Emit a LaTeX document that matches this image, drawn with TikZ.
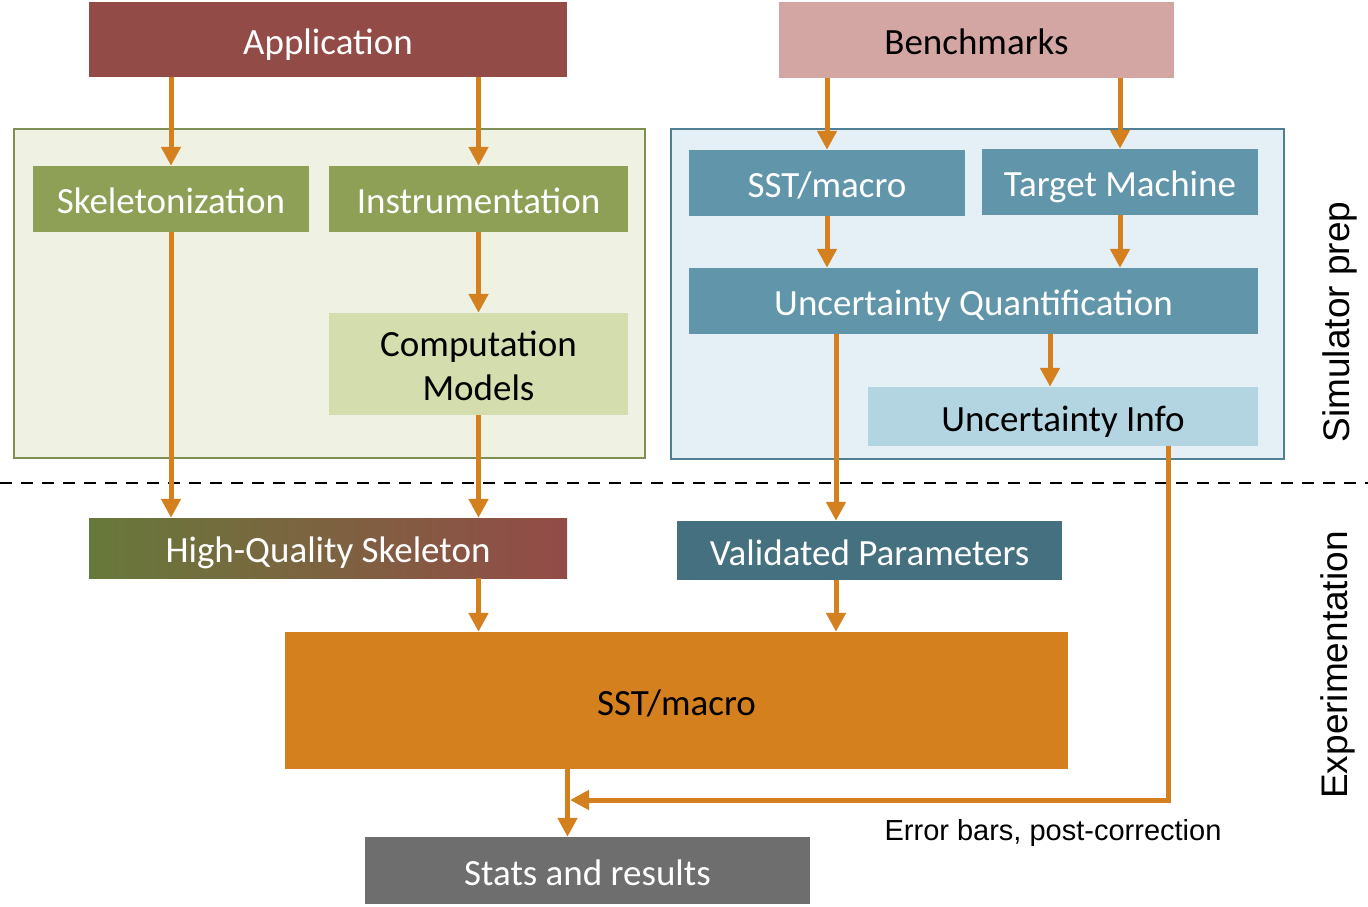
\documentclass[tikz,border=0pt]{standalone}
\usepackage{fontspec}
\usetikzlibrary{arrows.meta}
\newfontfamily\boxfont{Carlito}
\newfontfamily\notefont{Liberation Sans}

\definecolor{appred}{HTML}{934B47}
\definecolor{benchpink}{HTML}{D4A6A3}
\definecolor{olive}{HTML}{8DA055}
\definecolor{lightolive}{HTML}{D3DDAD}
\definecolor{panelgreen}{HTML}{EFF2E3}
\definecolor{panelgreenline}{HTML}{7F8F53}
\definecolor{teal}{HTML}{6095AA}
\definecolor{lightteal}{HTML}{B2D5E1}
\definecolor{panelblue}{HTML}{E5F0F6}
\definecolor{panelblueline}{HTML}{4E7F94}
\definecolor{darkteal}{HTML}{44707F}
\definecolor{hqgreen}{HTML}{67793A}
\definecolor{flowcol}{HTML}{D4801F}
\definecolor{statgray}{HTML}{6E6E6E}

\tikzset{
  box/.style={rectangle, inner sep=0pt, align=center, text height=35pt, text depth=6pt,
    font=\boxfont\fontsize{37}{44}\selectfont},
  panel/.style={rectangle, inner sep=0pt, line width=2pt},
  flow/.style={draw=flowcol, line width=5pt, -{Triangle[width=19pt,length=19pt]}},
  side/.style={font=\notefont\fontsize{37}{44}\selectfont, rotate=90},
}

\begin{document}
\begin{tikzpicture}[x=1pt, y=-1pt]
\useasboundingbox (0,0) rectangle (1368,906);

% Hai khung nen
\node[panel, draw=panelgreenline, fill=panelgreen, minimum width=631, minimum height=329] (apppanel) at (329.5,293.5) {};
\node[panel, draw=panelblueline, fill=panelblue, minimum width=613, minimum height=330] (simpanel) at (977.5,294) {};

% Hang tren cung
\node[box, fill=appred, text=white, minimum width=478, minimum height=75] (app) at (328,39.5) {Application};
\node[box, fill=benchpink, minimum width=395, minimum height=76] (bench) at (976.5,40) {Benchmarks};

% Khung ben trai
\node[box, fill=olive, text=white, minimum width=276, minimum height=66] (skel) at (171,199) {Skeletonization};
\node[box, fill=olive, text=white, minimum width=299, minimum height=66] (instr) at (478.5,199) {Instrumentation};
\node[box, fill=lightolive, text height=79pt, minimum width=299, minimum height=102] (comp) at (478.5,364) {Computation\\Models};

% Khung ben phai
\node[box, fill=teal, text=white, minimum width=276, minimum height=66] (sstA) at (827,183) {SST/macro};
\node[box, fill=teal, text=white, minimum width=276, minimum height=66] (target) at (1120,182) {Target Machine};
\node[box, fill=teal, text=white, minimum width=569, minimum height=66] (uq) at (973.5,301) {Uncertainty Quantification};
\node[box, fill=lightteal, minimum width=390, minimum height=59] (uinfo) at (1063,416.5) {Uncertainty Info};

% Duong ngan cach
\draw[dashed, line width=2.5pt, dash pattern=on 12pt off 9pt] (0,483) -- (1368,483);

% Phan thuc nghiem
\node[box, left color=hqgreen, right color=appred, text=white, minimum width=478, minimum height=60] (hq) at (328,548) {High-Quality Skeleton};
\node[box, fill=darkteal, text=white, minimum width=385, minimum height=59] (vp) at (869.5,550.5) {Validated Parameters};
\node[box, fill=flowcol, minimum width=783, minimum height=137] (sim) at (676.5,700.5) {SST/macro};
\node[box, fill=statgray, text=white, minimum width=445, minimum height=67] (stats) at (587.5,870.5) {Stats and results};

% Nhan ben phai
\node[side] (prep) at (1340,322) {Simulator prep};
\node[side] (expt) at (1338,665) {Experimentation};
\node[font=\notefont\fontsize{29}{34}\selectfont] (note) at (1053,833) {Error bars, post-correction};

% Cac mui ten
\draw[flow] (app.south -| skel.north) -- (skel.north);
\draw[flow] (app.south -| instr.north) -- (instr.north);
\draw[flow] (bench.south -| sstA.north) -- (sstA.north);
\draw[flow] (bench.south -| target.north) -- (target.north);
\draw[flow] (skel.south) -- (hq.north -| skel.south);
\draw[flow] (instr.south) -- (comp.north);
\draw[flow] (comp.south) -- (hq.north -| comp.south);
\draw[flow] (sstA.south) -- (uq.north -| sstA.south);
\draw[flow] (target.south) -- (uq.north -| target.south);
\draw[flow] ([xshift=-13pt]uinfo.north |- uq.south) -- ([xshift=-13pt]uinfo.north);
\draw[flow] ([xshift=-33.5pt]vp.north |- uq.south) -- ([xshift=-33.5pt]vp.north);
\draw[flow] (hq.south -| comp.south) -- (sim.north -| comp.south);
\draw[flow] ([xshift=-33.5pt]vp.south) -- ([xshift=-33.5pt]vp.south |- sim.north);
\draw[flow] ([xshift=-20pt]stats.north |- sim.south) -- ([xshift=-20pt]stats.north);

% Mui ten sai so
\coordinate (join) at (570,800);
\draw[flow] ([xshift=105pt]uinfo.south) |- (join);
\end{tikzpicture}
\end{document}
